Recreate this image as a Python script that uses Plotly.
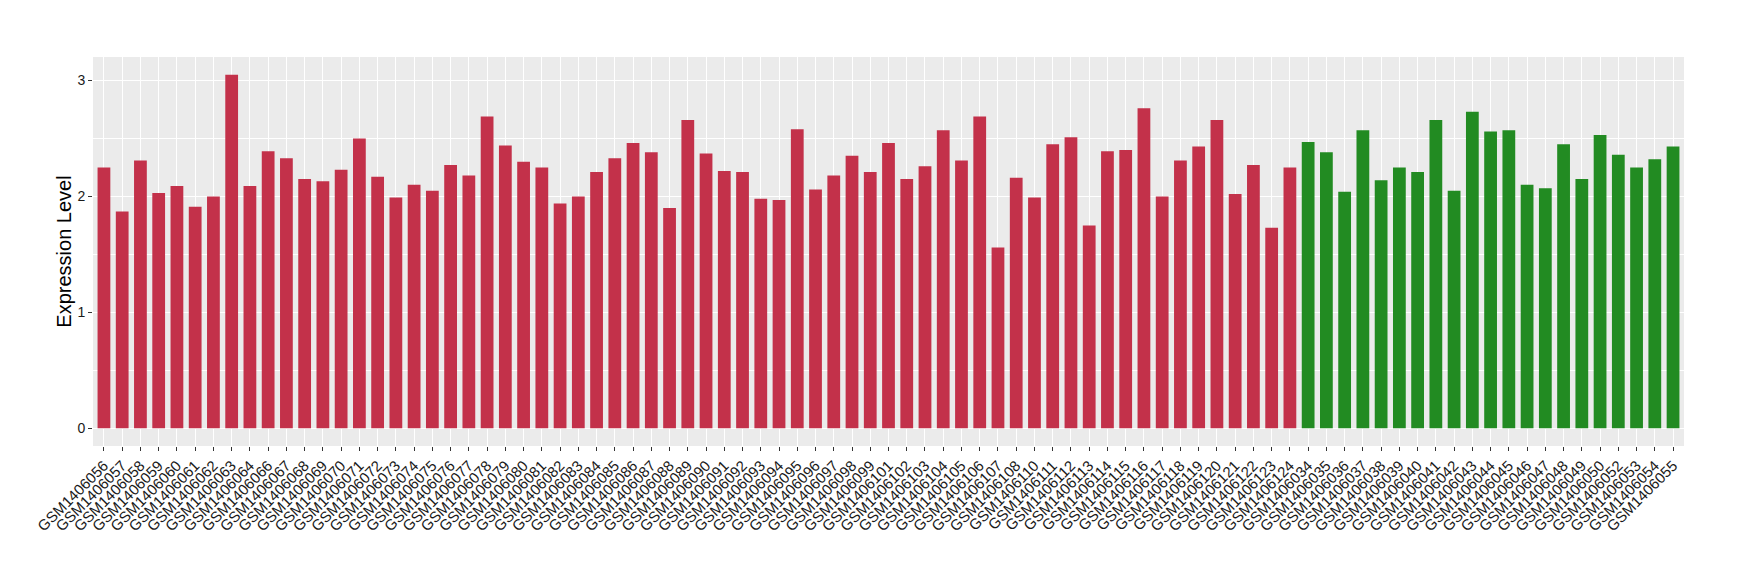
import plotly.graph_objects as go

# first group (red) and second group (green) samples
red_samples = [
    "GSM1406056", "GSM1406057", "GSM1406058", "GSM1406059", "GSM1406060", "GSM1406061",
    "GSM1406062", "GSM1406063", "GSM1406064", "GSM1406066", "GSM1406067", "GSM1406068",
    "GSM1406069", "GSM1406070", "GSM1406071", "GSM1406072", "GSM1406073", "GSM1406074",
    "GSM1406075", "GSM1406076", "GSM1406077", "GSM1406078", "GSM1406079", "GSM1406080",
    "GSM1406081", "GSM1406082", "GSM1406083", "GSM1406084", "GSM1406085", "GSM1406086",
    "GSM1406087", "GSM1406088", "GSM1406089", "GSM1406090", "GSM1406091", "GSM1406092",
    "GSM1406093", "GSM1406094", "GSM1406095", "GSM1406096", "GSM1406097", "GSM1406098",
    "GSM1406099", "GSM1406101", "GSM1406102", "GSM1406103", "GSM1406104", "GSM1406105",
    "GSM1406106", "GSM1406107", "GSM1406108", "GSM1406110", "GSM1406111", "GSM1406112",
    "GSM1406113", "GSM1406114", "GSM1406115", "GSM1406116", "GSM1406117", "GSM1406118",
    "GSM1406119", "GSM1406120", "GSM1406121", "GSM1406122", "GSM1406123", "GSM1406124",
]
red_values = [
    2.25, 1.87, 2.31, 2.03, 2.09, 1.91, 2.00, 3.05, 2.09, 2.39, 2.33, 2.15,
    2.13, 2.23, 2.50, 2.17, 1.99, 2.10, 2.05, 2.27, 2.18, 2.69, 2.44, 2.30,
    2.25, 1.94, 2.00, 2.21, 2.33, 2.46, 2.38, 1.90, 2.66, 2.37, 2.22, 2.21,
    1.98, 1.97, 2.58, 2.06, 2.18, 2.35, 2.21, 2.46, 2.15, 2.26, 2.57, 2.31,
    2.69, 1.56, 2.16, 1.99, 2.45, 2.51, 1.75, 2.39, 2.40, 2.76, 2.00, 2.31,
    2.43, 2.66, 2.02, 2.27, 1.73, 2.25,
]

green_samples = [
    "GSM1406034", "GSM1406035", "GSM1406036", "GSM1406037", "GSM1406038", "GSM1406039",
    "GSM1406040", "GSM1406041", "GSM1406042", "GSM1406043", "GSM1406044", "GSM1406045",
    "GSM1406046", "GSM1406047", "GSM1406048", "GSM1406049", "GSM1406050", "GSM1406052",
    "GSM1406053", "GSM1406054", "GSM1406055",
]
green_values = [
    2.47, 2.38, 2.04, 2.57, 2.14, 2.25, 2.21, 2.66, 2.05, 2.73, 2.56, 2.57,
    2.10, 2.07, 2.45, 2.15, 2.53, 2.36, 2.25, 2.32, 2.43,
]

y_ticks = [0, 1, 2, 3]

RED = "#C3314A"
GREEN = "#228B22"
TEXT = "#1A1A1A"

samples = red_samples + green_samples
values = red_values + green_values
colors = [RED] * len(red_samples) + [GREEN] * len(green_samples)

fig = go.Figure()
fig.add_trace(
    go.Bar(
        x=samples,
        y=values,
        width=0.7,
        marker=dict(color=colors, line=dict(width=0)),
        showlegend=False,
    )
)

n = len(samples)
# the page body has an 8px margin, so the figure is 16px smaller than the window
fig.update_layout(
    width=1724,
    height=564,
    paper_bgcolor="white",
    plot_bgcolor="#EBEBEB",
    margin=dict(l=85, r=48, t=49, b=126, autoexpand=False),
    font=dict(family="Liberation Sans, Arial, sans-serif", color=TEXT),
    xaxis=dict(
        type="category",
        range=[-0.6, n - 0.4],
        tickmode="linear",
        dtick=1,
        tickangle=-45,
        tickfont=dict(size=15, color=TEXT),
        ticks="outside",
        ticklen=4,
        tickwidth=1,
        tickcolor="#333333",
        showgrid=True,
        gridcolor="white",
        gridwidth=1.1,
        zeroline=False,
        showline=False,
    ),
    yaxis=dict(
        range=[-0.1525, 3.2025],
        tickmode="array",
        tickvals=y_ticks,
        ticktext=[str(t) for t in y_ticks],
        tickfont=dict(size=14, color=TEXT),
        ticks="outside",
        ticklen=4,
        tickwidth=1,
        tickcolor="#333333",
        showgrid=True,
        gridcolor="white",
        gridwidth=1.1,
        minor=dict(dtick=0.5, showgrid=True, gridcolor="white", gridwidth=0.5, ticks=""),
        zeroline=False,
        showline=False,
        title=dict(text="Expression Level", font=dict(size=20, color="black"), standoff=0),
    ),
)

fig.write_html("out.html")
